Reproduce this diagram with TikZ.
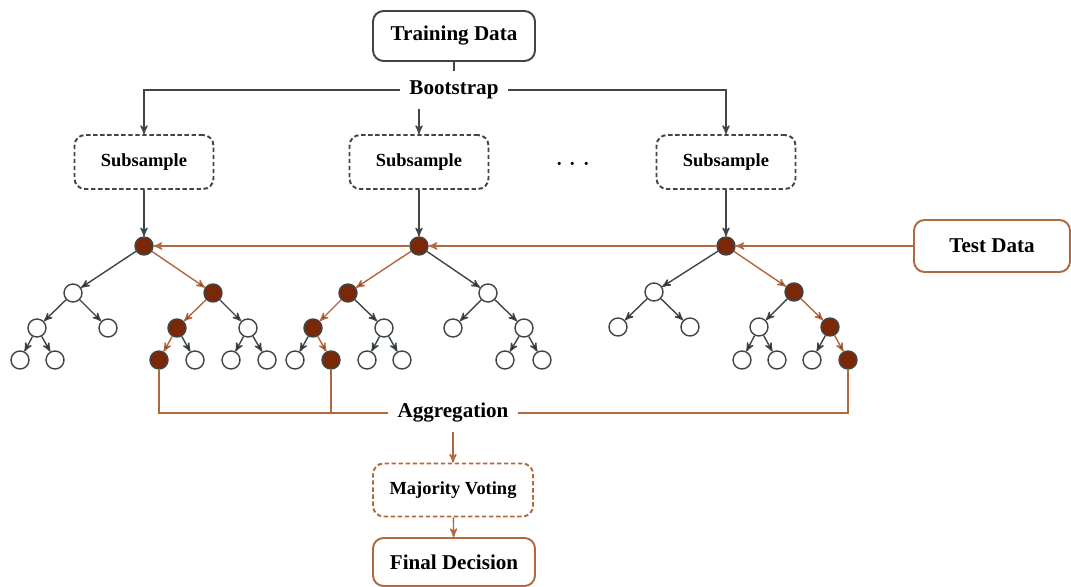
\documentclass[tikz,border=0pt]{standalone}
\usepackage{fontspec}
\setmainfont{Liberation Serif}
\usepackage{tikz}
\usetikzlibrary{arrows}

\definecolor{darkline}{HTML}{3E4646}
\definecolor{rust}{HTML}{B2683E}
\definecolor{leafbrown}{HTML}{7A2808}

\begin{document}
\begin{tikzpicture}[x=0.02cm, y=-0.02cm, >=stealth', line width=0.8pt, font=\fontsize{12}{14}\selectfont\bfseries,
    box/.style={draw=darkline, rounded corners=6pt, line width=1.1pt, minimum width=3.24cm, minimum height=1cm},
    subbox/.style={box, dash pattern=on 2.5pt off 1.5pt, minimum width=2.78cm, minimum height=1.08cm, font=\fontsize{10.5}{12}\selectfont\bfseries},
    bigtext/.style={inner sep=5pt},
    leaf/.style={circle, draw=darkline, fill=white, minimum size=0.36cm, inner sep=0pt, line width=0.8pt},
    hit/.style={leaf, fill=leafbrown},
    branch/.style={->, draw=darkline},
    hotbranch/.style={->, draw=rust}]
    \useasboundingbox (0,0) rectangle (1071,587);

    % Boxes {train, boot, sub1, sub2, sub3, test}
    \node [box]      (train) at (454,36)  {Training Data};
    \node [bigtext]  (boot)  at (454,90)  {Bootstrap};
    \node [subbox]   (sub1)  at (144,162) {Subsample};
    \node [subbox]   (sub2)  at (419,162) {Subsample};
    \node [subbox]   (sub3)  at (726,162) {Subsample};
    \node            (dots)  at (573,165) {\LARGE$\cdots$};
    \node [box, draw=rust, minimum width=3.12cm, minimum height=1.04cm] (test) at (992,246) {Test Data};

    % Tree A
    \node [hit]  (A0)   at (144,246) {};
    \node [leaf] (A1)   at (73,293)  {};
    \node [hit]  (A2)   at (213,293) {};
    \node [leaf] (A11)  at (37,328)  {};
    \node [leaf] (A12)  at (108,328) {};
    \node [hit]  (A21)  at (177,328) {};
    \node [leaf] (A22)  at (248,328) {};
    \node [leaf] (A111) at (20,360)  {};
    \node [leaf] (A112) at (55,360)  {};
    \node [hit]  (A211) at (159,360) {};
    \node [leaf] (A212) at (195,360) {};
    \node [leaf] (A221) at (231,360) {};
    \node [leaf] (A222) at (267,360) {};

    % Tree B
    \node [hit]  (B0)   at (419,246) {};
    \node [hit]  (B1)   at (348,293) {};
    \node [leaf] (B2)   at (488,293) {};
    \node [hit]  (B11)  at (313,328) {};
    \node [leaf] (B12)  at (384,328) {};
    \node [leaf] (B21)  at (453,328) {};
    \node [leaf] (B22)  at (524,328) {};
    \node [leaf] (B111) at (295,360) {};
    \node [hit]  (B112) at (331,360) {};
    \node [leaf] (B121) at (367,360) {};
    \node [leaf] (B122) at (402,360) {};
    \node [leaf] (B221) at (505,360) {};
    \node [leaf] (B222) at (542,360) {};

    % Tree C
    \node [hit]  (C0)   at (726,246) {};
    \node [leaf] (C1)   at (654,292) {};
    \node [hit]  (C2)   at (794,292) {};
    \node [leaf] (C11)  at (618,327) {};
    \node [leaf] (C12)  at (690,327) {};
    \node [leaf] (C21)  at (759,327) {};
    \node [hit]  (C22)  at (830,327) {};
    \node [leaf] (C211) at (742,360) {};
    \node [leaf] (C212) at (777,360) {};
    \node [leaf] (C221) at (812,360) {};
    \node [hit]  (C222) at (848,360) {};

    % Bottom {agg, vote, final}
    \node [bigtext] (agg) at (453,413) {Aggregation};
    \node [subbox, draw=rust, minimum width=3.2cm, minimum height=1.06cm] (vote) at (453,490) {Majority Voting};
    \node [box, draw=rust, minimum height=0.96cm] (final) at (454,562) {Final Decision};

    % Paths
    \draw [darkline] (train) -- (boot);
    \draw [branch] (boot) -| (sub1);
    \draw [branch] (boot) -| (sub3);
    \draw [branch] (boot.south -| sub2.north) -- (sub2);
    \draw [branch] (sub1) -- (A0);
    \draw [branch] (sub2) -- (B0);
    \draw [branch] (sub3) -- (C0);

    \path [branch] (A0) edge (A1) (A1) edge (A11) (A1) edge (A12) (A11) edge (A111) (A11) edge (A112)
                   (A2) edge (A22) (A21) edge (A212) (A22) edge (A221) (A22) edge (A222);
    \path [hotbranch] (A0) edge (A2) (A2) edge (A21) (A21) edge (A211);

    \path [branch] (B0) edge (B2) (B1) edge (B12) (B11) edge (B111) (B12) edge (B121) (B12) edge (B122)
                   (B2) edge (B21) (B2) edge (B22) (B22) edge (B221) (B22) edge (B222);
    \path [hotbranch] (B0) edge (B1) (B1) edge (B11) (B11) edge (B112);

    \path [branch] (C0) edge (C1) (C1) edge (C11) (C1) edge (C12) (C2) edge (C21)
                   (C21) edge (C211) (C21) edge (C212) (C22) edge (C221);
    \path [hotbranch] (C0) edge (C2) (C2) edge (C22) (C22) edge (C222);

    \draw [hotbranch] (test) -- (C0);
    \draw [hotbranch] (C0) -- (B0);
    \draw [hotbranch] (B0) -- (A0);

    \draw [rust] (A211) |- (agg);
    \draw [rust] (B112) |- (agg);
    \draw [rust] (C222) |- (agg);
    \draw [hotbranch] (agg) -- (vote);
    \draw [hotbranch] (vote) -- (final);
\end{tikzpicture}
\end{document}
